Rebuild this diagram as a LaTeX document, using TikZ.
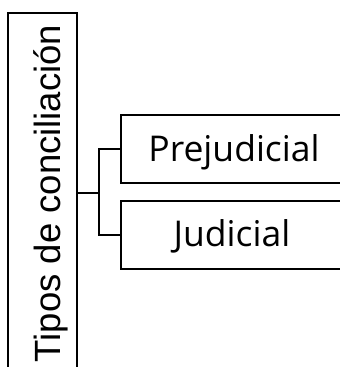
\documentclass[tikz,border=0pt]{standalone}
\usepackage{fontspec}
\setmainfont{Open Sans}
\newfontfamily\arialf{Liberation Sans}
\begin{document}
\begin{tikzpicture}[x=1pt,y=1pt,
  box/.style={draw=black,line width=2pt,rectangle,inner sep=0pt},
  conn/.style={draw=black,line width=2pt},
  lbl/.style={font=\fontsize{35.5}{40}\selectfont,inner sep=0pt}]
\useasboundingbox (0,0) rectangle (340,-367);
\begin{scope}
\clip (0,0) rectangle (340,-367);
\node[box,minimum width=68.5,minimum height=360.5] (root) at (42.25,-192.75) {};
\node[box,minimum width=227,minimum height=68] (p) at (234.5,-149) {};
\node[box,minimum width=227,minimum height=68] (jd) at (234.5,-235) {};
\node[lbl,font=\arialf\fontsize{36.5}{40}\selectfont,rotate=90,anchor=base] (rt) at (60,-193.5) {Tipos de conciliación};
\node[lbl,anchor=base] (pt) at (234,-161) {Prejudicial};
\node[lbl,anchor=base] (jt) at (232,-246) {Judicial};
\coordinate (j) at (99,-192.75);
\draw[conn] (root.east) -- (j);
\draw[conn] (p.west) -| (j) |- (jd.west);
\end{scope}
\end{tikzpicture}
\end{document}
